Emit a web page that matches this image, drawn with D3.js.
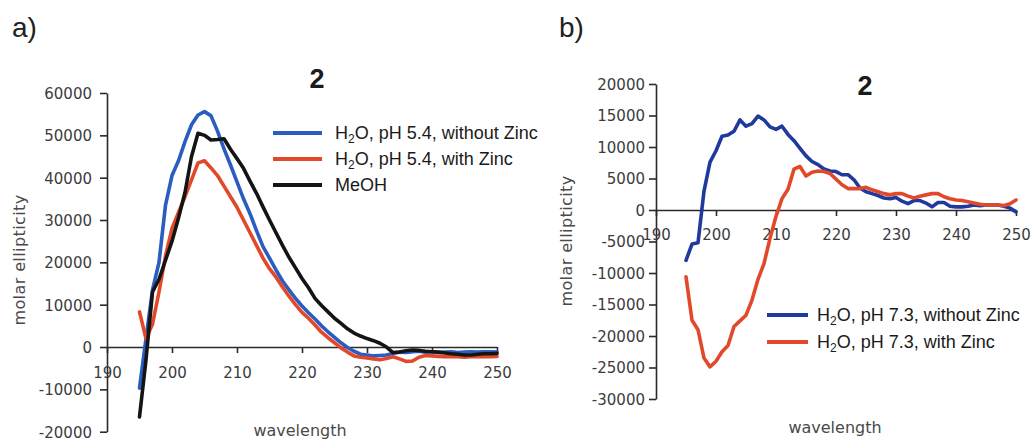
<!DOCTYPE html>
<html><head><meta charset="utf-8">
<script src="https://cdn.jsdelivr.net/npm/d3@7"></script>
<style>
html,body{margin:0;padding:0;background:#fff;}
svg{display:block;}
</style></head>
<body>
<svg id="chart" width="1031" height="441"></svg>
<script>
// CD spectra: wavelength (nm) vs molar ellipticity
const wavelengths = [
  195,196,197,198,199,200,201,202,203,204,
  205,206,207,208,209,210,211,212,213,214,
  215,216,217,218,219,220,221,222,223,224,
  225,226,227,228,229,230,231,232,233,234,
  235,236,237,238,239,240,241,242,243,244,
  245,246,247,248,249,250
];

// panel a) pH 5.4 / MeOH
const aNoZinc = [
  -9700, 2000, 13500, 20000, 33500, 40500, 44000, 48500, 52500, 54800,
  55600, 54600, 51000, 46800, 43000, 39000, 35000, 31500, 27500, 23700,
  21000, 18200, 15600, 13500, 11500, 9700, 8100, 6600, 5000, 3600,
  2300, 1000, -100, -1000, -1700, -1900, -2100, -2000, -1900, -1500,
  -1200, -1300, -1100, -1000, -1200, -1100, -1300, -1200, -1100, -1300,
  -1200, -1100, -1200, -1100, -1100, -1200
];
const aZinc = [
  8300, 2000, 5400, 13000, 21500, 28000, 31800, 35500, 39500, 43500,
  44000, 42300, 40500, 38000, 35500, 33000, 30000, 27000, 24000, 21000,
  18500, 16500, 14200, 12000, 10000, 8200, 6800, 5200, 3500, 2200,
  1000, -200, -1200, -2100, -2400, -2600, -2800, -3000, -2700, -2300,
  -2800, -3400, -3300, -2400, -2000, -2100, -2200, -2300, -2200, -2300,
  -2400, -2300, -2200, -2300, -2300, -2200
];
const aMeOH = [
  -16500, -3000, 13000, 16000, 20500, 25000, 30500, 36500, 45000, 50500,
  50000, 48900, 49000, 49200, 46700, 44500, 42200, 39200, 36300, 33100,
  30000, 27000, 24000, 21200, 18700, 16200, 14000, 11500, 9800, 8300,
  6800, 5600, 4300, 3300, 2600, 2000, 1500, 900, 0, -1300,
  -1200, -900, -700, -800, -1000, -1100, -1200, -1400, -1600, -1700,
  -1900, -1900, -1700, -1600, -1600, -1500
];

// panel b) pH 7.3
const bNoZinc = [
  -8000, -5400, -5200, 3000, 7600, 9400, 11700, 11900, 12500, 14300,
  13300, 13700, 14900, 14300, 13200, 12800, 13300, 12000, 11000, 9800,
  8600, 7700, 7200, 6500, 6200, 6100, 5600, 5600, 4800, 3500,
  2900, 2600, 2300, 1900, 1800, 2000, 1400, 1000, 1500, 1500,
  1100, 500, 1200, 1200, 600, 500, 500, 600, 800, 700,
  800, 800, 800, 600, 300, -300
];
const bZinc = [
  -10600, -17500, -19000, -23500, -24900, -24000, -22500, -21500, -18500, -17600,
  -16700, -14300, -11000, -8500, -4500, -1000, 1800, 3300, 6500, 6900,
  5400, 6000, 6200, 6100, 5800, 4900, 4000, 3400, 3400, 3400,
  3600, 3200, 2900, 2600, 2400, 2600, 2600, 2200, 1900, 2200,
  2400, 2600, 2600, 2100, 1800, 1600, 1500, 1300, 1100, 900,
  800, 800, 800, 700, 1000, 1600
];

const xTicks = [190, 200, 210, 220, 230, 240, 250];
const aYTicks = [-20000, -10000, 0, 10000, 20000, 30000, 40000, 50000, 60000];
const bYTicks = [-30000, -25000, -20000, -15000, -10000, -5000, 0, 5000, 10000, 15000, 20000];

const aLegend = [
  {pre: "H", sub: "2", post: "O, pH 5.4, without Zinc", color: "#2b5cbf", data: aNoZinc},
  {pre: "H", sub: "2", post: "O, pH 5.4, with Zinc", color: "#e2492a", data: aZinc},
  {pre: "MeOH", sub: "", post: "", color: "#141414", data: aMeOH}
];
const bLegend = [
  {pre: "H", sub: "2", post: "O, pH 7.3, without Zinc", color: "#1f3a9c", data: bNoZinc},
  {pre: "H", sub: "2", post: "O, pH 7.3, with Zinc", color: "#e2492a", data: bZinc}
];

const svg = d3.select("#chart");
const tickFont = "'DejaVu Sans', Verdana, sans-serif";
const textFont = "'Liberation Sans', Arial, Helvetica, sans-serif";

function panel(cfg) {
  const g = svg.append("g");
  const x = d3.scaleLinear().domain([190, 250]).range(cfg.xRange);
  const y = d3.scaleLinear().domain(cfg.yDomain).range(cfg.yRange);

  // y axis
  const yAxis = g.append("g")
    .attr("transform", `translate(${cfg.xRange[0]},0)`)
    .call(d3.axisLeft(y).tickValues(cfg.yTicks).tickFormat(d => String(d))
      .tickSize(7).tickSizeOuter(0).tickPadding(cfg.yPad));
  // x axis across the zero line
  const xAxis = g.append("g")
    .attr("transform", `translate(0,${y(0)})`)
    .call(d3.axisBottom(x).tickValues(xTicks).tickFormat(d => String(d))
      .tickSize(6).tickSizeOuter(0));
  [yAxis, xAxis].forEach(ax => {
    ax.selectAll("path.domain").attr("stroke", "#2a2a2a").attr("stroke-width", 1.6);
    ax.selectAll(".tick line").attr("stroke", "#2a2a2a").attr("stroke-width", 1.6);
    ax.selectAll("text").attr("fill", "#3c3c3c")
      .style("font-family", tickFont).style("font-size", "15px");
  });
  xAxis.selectAll("text").attr("dy", null).attr("y", cfg.xLabelY);
  yAxis.selectAll("text").attr("dy", "0.36em");

  // spectra
  const line = d3.line().x((d, i) => x(wavelengths[i])).y(d => y(d));
  cfg.series.forEach(s => {
    g.append("path").datum(s.data)
      .attr("d", line)
      .attr("fill", "none")
      .attr("stroke", s.color)
      .attr("stroke-width", 3.6)
      .attr("stroke-linejoin", "round")
      .attr("stroke-linecap", "round");
  });

  // legend
  cfg.series.forEach((s, i) => {
    const ly = cfg.legend.y + i * cfg.legend.dy;
    g.append("line")
      .attr("x1", cfg.legend.x1).attr("x2", cfg.legend.x2)
      .attr("y1", ly).attr("y2", ly)
      .attr("stroke", s.color).attr("stroke-width", 4.2);
    const t = g.append("text")
      .attr("x", cfg.legend.tx).attr("y", ly + 6)
      .attr("fill", "#1a1a1a")
      .style("font-family", textFont).style("font-size", "18px");
    t.append("tspan").text(s.pre);
    if (s.sub) {
      t.append("tspan").attr("dy", 4).style("font-size", "12px").text(s.sub);
      t.append("tspan").attr("dy", -4).text(s.post);
    }
  });

  // title number
  g.append("text")
    .attr("x", cfg.title[0]).attr("y", cfg.title[1])
    .attr("text-anchor", "middle")
    .attr("fill", "#1a1a1a")
    .style("font-family", textFont).style("font-size", "27px").style("font-weight", "bold")
    .text("2");

  // panel letter
  g.append("text")
    .attr("x", cfg.letter[0]).attr("y", cfg.letter[1])
    .attr("fill", "#222")
    .style("font-family", textFont).style("font-size", "28px")
    .text(cfg.letterText);

  // axis titles
  g.append("text")
    .attr("transform", `translate(${cfg.yTitle[0]},${cfg.yTitle[1]}) rotate(-90)`)
    .attr("text-anchor", "middle")
    .attr("dominant-baseline", "central")
    .attr("fill", "#4a4a4a")
    .style("font-family", tickFont).style("font-size", "16px")
    .style("letter-spacing", "0.4px")
    .text("molar ellipticity");
  g.append("text")
    .attr("x", cfg.xTitle[0]).attr("y", cfg.xTitle[1])
    .attr("text-anchor", "middle")
    .attr("fill", "#4a4a4a")
    .style("font-family", tickFont).style("font-size", "16px")
    .text("wavelength");
}

panel({
  xRange: [107, 497],
  yDomain: [-20000, 60000], yRange: [431.7, 93],
  yTicks: aYTicks, yPad: 8, xLabelY: 31,
  series: aLegend,
  legend: {x1: 273, x2: 322, tx: 335, y: 133, dy: 26},
  title: [317, 88],
  letter: [12, 37], letterText: "a)",
  yTitle: [19, 260],
  xTitle: [300, 436]
});

panel({
  xRange: [656, 1016],
  yDomain: [-30000, 20000], yRange: [399, 84],
  yTicks: bYTicks, yPad: 4, xLabelY: 30,
  series: bLegend,
  legend: {x1: 767, x2: 808, tx: 817, y: 315, dy: 27},
  title: [865, 95],
  letter: [559, 37], letterText: "b)",
  yTitle: [566, 241],
  xTitle: [835, 433]
});
</script>
</body></html>
